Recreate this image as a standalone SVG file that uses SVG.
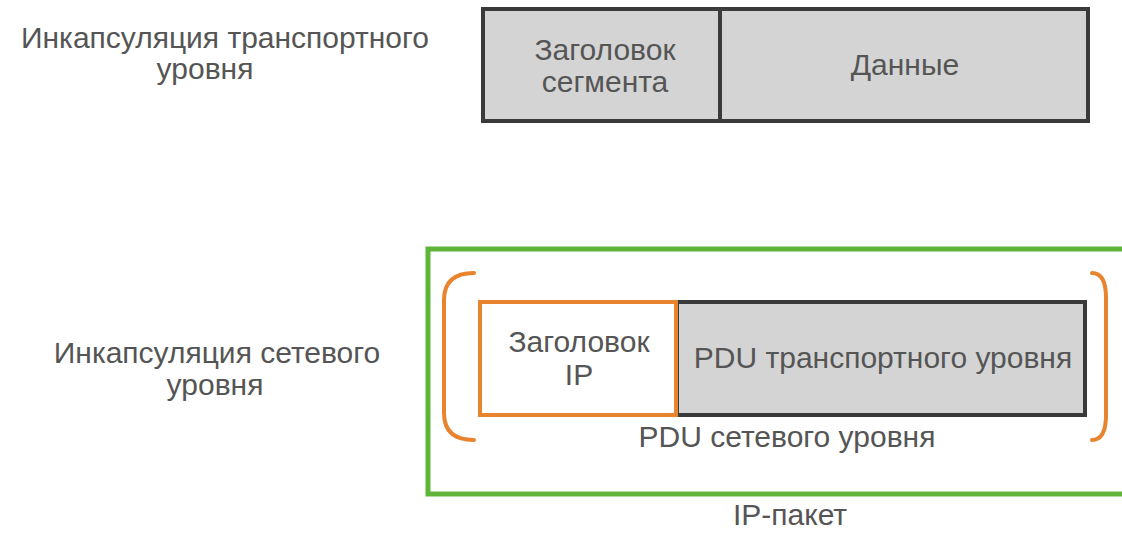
<svg xmlns="http://www.w3.org/2000/svg" width="1122" height="534" viewBox="0 0 1122 534">
<style>
.lbl{font-family:"Liberation Sans",Arial,sans-serif;font-size:30px;fill:#555;text-anchor:middle}
.bx{font-family:"Liberation Sans",Arial,sans-serif;font-size:30px;fill:#555;text-anchor:middle}
.gray{fill:#d4d4d4;stroke:#3a3a3a;stroke-width:4}
.br{fill:none;stroke:#e8832e;stroke-width:4;stroke-linecap:round}
</style>
<rect width="1122" height="534" fill="#fff"/>
<g id="label-transport">
<text class="lbl" x="225" y="48">Инкапсуляция транспортного</text>
<text class="lbl" x="205" y="79">уровня</text>
</g>
<g id="segment">
<rect class="gray" x="483" y="9" width="605" height="112"/>
<line x1="720" y1="9" x2="720" y2="121" stroke="#3a3a3a" stroke-width="4"/>
<text class="bx" x="605" y="60">Заголовок</text>
<text class="bx" x="605" y="92">сегмента</text>
<text class="bx" x="905" y="75">Данные</text>
</g>
<g id="label-network">
<text class="lbl" x="217" y="363">Инкапсуляция сетевого</text>
<text class="lbl" x="215" y="395">уровня</text>
</g>
<g id="ip-packet">
<rect x="428" y="249" width="700" height="245" fill="none" stroke="#5fb53a" stroke-width="5"/>
<text class="bx" x="790" y="525">IP-пакет</text>
</g>
<g id="network-pdu">
<path class="br" d="M474,273 Q444,273 444,300 L444,413 Q444,440 474,440"/>
<path class="br" d="M1092,273 Q1106,273 1106,298 L1106,415 Q1106,440 1092,440"/>
<text class="bx" x="787" y="447">PDU сетевого уровня</text>
</g>
<g id="transport-pdu">
<rect class="gray" x="677" y="302" width="408" height="113"/>
<text class="bx" x="883" y="368">PDU транспортного уровня</text>
</g>
<g id="ip-header">
<rect x="480" y="302" width="196" height="113" fill="#fff" stroke="#e8832e" stroke-width="4"/>
<text class="bx" x="579" y="352">Заголовок</text>
<text class="bx" x="579" y="385">IP</text>
</g>
</svg>
